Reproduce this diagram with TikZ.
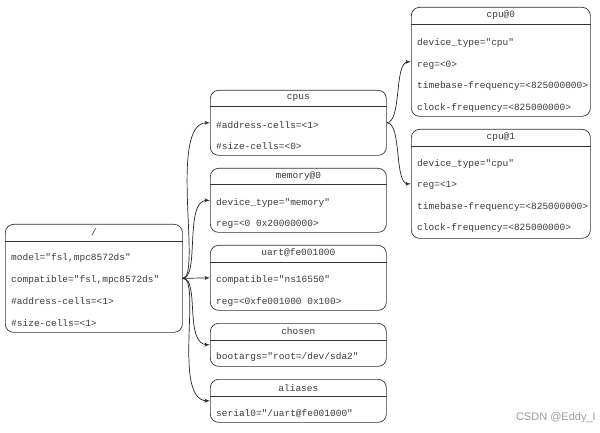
\documentclass[tikz,border=0pt]{standalone}
\usepackage{fontspec}
\setmonofont{Liberation Mono}
\setsansfont{Liberation Sans}
\usepackage{tikz}
\usetikzlibrary{positioning, arrows}
\definecolor{inkgray}{HTML}{3A3A3A}
\definecolor{markgray}{HTML}{9A9A9A}
\tikzstyle{line} = [draw, -latex', line width=0.6pt, black!85]
\tikzstyle{record} = [rectangle, draw=black!80, line width=0.6pt, rounded corners=7pt,
    anchor=north west, inner sep=0pt]
\tikzstyle{field} = [anchor=west, inner sep=0pt, text=inkgray,
    font=\ttfamily\fontsize{8.1}{9}\selectfont]
\tikzstyle{head} = [field, anchor=center]

\begin{document}
\begin{tikzpicture}[x=0.03cm, y=-0.03cm]
      \useasboundingbox (0,0) rectangle (600,433);
      % Place the root record
      \node [record, minimum width=5.31cm, minimum height=3.24cm] (root) at (5,224) {};
      \node [head] (root-t) at (root.north |- 0,232) {/};
      \node [field] (root-1) at (11,258) {model="fsl,mpc8572ds"};
      \node [field] (root-2) at (11,280) {compatible="fsl,mpc8572ds"};
      \node [field] (root-3) at (11,301) {\#address-cells=<1>};
      \node [field] (root-4) at (11,323) {\#size-cells=<1>};
      % Place the child records
      \node [record, minimum width=5.28cm, minimum height=1.95cm] (cpus) at (210,90) {};
      \node [head] (cpus-t) at (cpus.north |- 0,98) {cpus};
      \node [field] (cpus-1) at (216,125) {\#address-cells=<1>};
      \node [field] (cpus-2) at (216,146) {\#size-cells=<0>};
      \node [record, minimum width=5.28cm, minimum height=1.92cm] (memory) at (210,168) {};
      \node [head] (memory-t) at (memory.north |- 0,176) {memory@0};
      \node [field] (memory-1) at (216,203) {device\_type="memory"};
      \node [field] (memory-2) at (216,224) {reg=<0 0x20000000>};
      \node [record, minimum width=5.28cm, minimum height=1.95cm] (uart) at (210,245) {};
      \node [head] (uart-t) at (uart.north |- 0,253) {uart@fe001000};
      \node [field] (uart-1) at (216,280) {compatible="ns16550"};
      \node [field] (uart-2) at (216,302) {reg=<0xfe001000 0x100>};
      \node [record, minimum width=5.28cm, minimum height=1.29cm] (chosen) at (210,323) {};
      \node [head] (chosen-t) at (chosen.north |- 0,331) {chosen};
      \node [field] (chosen-1) at (216,357) {bootargs="root=/dev/sda2"};
      \node [record, minimum width=5.28cm, minimum height=1.29cm] (aliases) at (210,379) {};
      \node [head] (aliases-t) at (aliases.north |- 0,388) {aliases};
      \node [field] (aliases-1) at (216,414) {serial0="/uart@fe001000"};
      % Place the cpu records
      \node [record, minimum width=5.37cm, minimum height=3.27cm] (cpu0) at (411,7) {};
      \node [head] (cpu0-t) at (cpu0.north |- 0,15) {cpu@0};
      \node [field] (cpu0-1) at (417,43) {device\_type="cpu"};
      \node [field] (cpu0-2) at (417,65) {reg=<0>};
      \node [field] (cpu0-3) at (417,86) {timebase-frequency=<825000000>};
      \node [field] (cpu0-4) at (417,108) {clock-frequency=<825000000>};
      \node [record, minimum width=5.37cm, minimum height=3.27cm] (cpu1) at (411,129) {};
      \node [head] (cpu1-t) at (cpu1.north |- 0,137) {cpu@1};
      \node [field] (cpu1-1) at (417,164) {device\_type="cpu"};
      \node [field] (cpu1-2) at (417,185) {reg=<1>};
      \node [field] (cpu1-3) at (417,207) {timebase-frequency=<825000000>};
      \node [field] (cpu1-4) at (417,228) {clock-frequency=<825000000>};
      % Header rules
      \foreach \rec/\yy in {root/241, cpus/106, memory/184, uart/262, chosen/340, aliases/396, cpu0/24, cpu1/146}
        \draw [black!80, line width=0.6pt] (\rec.west |- 0,\yy) -- (\rec.east |- 0,\yy);
      % Draw edges
      \path [line] (root.east) .. controls (202,278) and (168,122) .. (cpus.west);
      \path [line] (root.east) .. controls (200,278) and (184,200) .. (memory.west);
      \path [line] (root.east) -- (uart.west);
      \path [line] (root.east) .. controls (200,278) and (184,344) .. (chosen.west);
      \path [line] (root.east) .. controls (202,278) and (172,400) .. (aliases.west);
      \path [line] (cpus.east) .. controls (402,122) and (394,62) .. (cpu0.west);
      \path [line] (cpus.east) .. controls (402,122) and (394,184) .. (cpu1.west);
      % Watermark
      \node [anchor=east, inner sep=0pt, text=markgray, font=\sffamily\fontsize{9.4}{11}\selectfont] (mark) at (596,418) {CSDN @Eddy\_I};
\end{tikzpicture}
\end{document}
